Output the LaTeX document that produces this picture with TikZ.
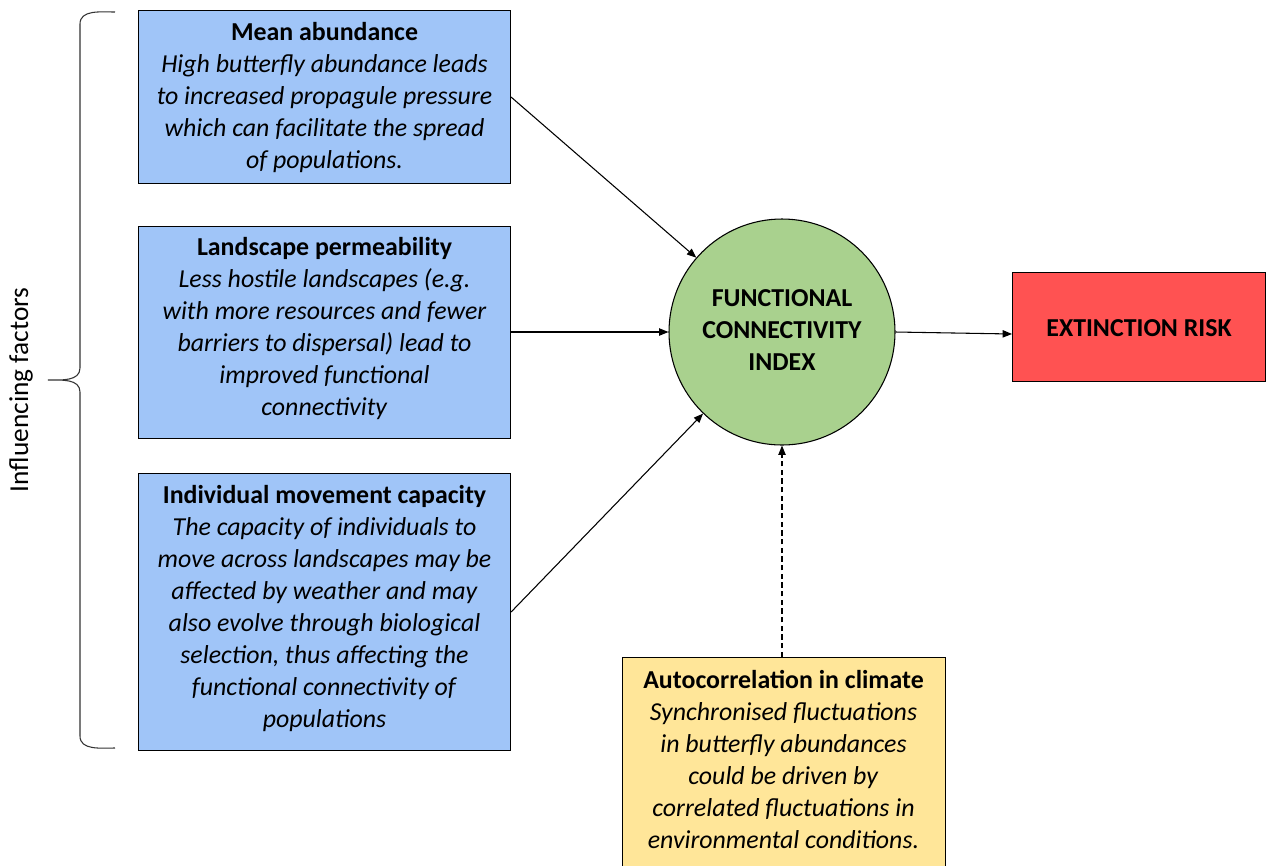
\documentclass[tikz,border=0pt]{standalone}
\usepackage{fontspec}
\setmainfont{Carlito}
\usetikzlibrary{arrows.meta}
\definecolor{boxblue}{HTML}{A0C5F8}
\definecolor{circgreen}{HTML}{A9D18E}
\definecolor{riskred}{HTML}{FF5252}
\definecolor{climyellow}{HTML}{FFE699}
\begin{document}
\begin{tikzpicture}[x=0.75pt,y=-0.75pt,
  txt/.style={font=\fontsize{19.4pt}{24pt}\selectfont, align=center},
  boldtxt/.style={font=\fontsize{19.4pt}{24pt}\selectfont\bfseries, align=center},
  factorbox/.style={draw=black, line width=0.8pt, fill=boxblue, anchor=north west, inner sep=0pt, minimum width=279pt},
  arr/.style={line width=0.8pt, -{Triangle[length=7pt,width=5.5pt]}},
]
\useasboundingbox (0,0) rectangle (1266,865);

% factor boxes
\node[factorbox, minimum height=129.75pt] (b1) at (138,10) {};
\node[txt] (t1) at (b1.center) {\textbf{Mean abundance}\\ \textit{High butterfly abundance leads}\\ \textit{to increased propagule pressure}\\ \textit{which can facilitate the spread}\\ \textit{of populations.}};

\node[factorbox, minimum height=159pt] (b2) at (138,226) {};
\node[txt] (t2) at ([yshift=3pt]b2.center) {\textbf{Landscape permeability}\\ \textit{Less hostile landscapes (e.g.}\\ \textit{with more resources and fewer}\\ \textit{barriers to dispersal) lead to}\\ \textit{improved functional}\\ \textit{connectivity}};

\node[factorbox, minimum height=207.75pt] (b3) at (138,473) {};
\node[txt] (t3) at ([yshift=3pt]b3.center) {\textbf{Individual movement capacity}\\ \textit{The capacity of individuals to}\\ \textit{move across landscapes may be}\\ \textit{affected by weather and may}\\ \textit{also evolve through biological}\\ \textit{selection, thus affecting the}\\ \textit{functional connectivity of}\\ \textit{populations}};

% central circle
\node[circle, draw=black, line width=0.8pt, fill=circgreen, minimum size=169.5pt, inner sep=0pt] (c) at (782,332) {};
\node[boldtxt] (ct) at (782,330) {FUNCTIONAL\\ CONNECTIVITY\\ INDEX};

% extinction risk
\node[draw=black, line width=0.8pt, fill=riskred, anchor=north west, inner sep=0pt, minimum width=189.75pt, minimum height=81.75pt] (ext) at (1012,272) {};
\node[boldtxt] (et) at ([yshift=-1pt]ext.center) {EXTINCTION RISK};

% climate box
\node[draw=black, line width=0.8pt, fill=climyellow, anchor=north west, inner sep=0pt, minimum width=242.25pt, minimum height=159.75pt] (yel) at (622,657) {};
\node[txt] (yt) at (783.5,759) {\textbf{Autocorrelation in climate}\\ \textit{Synchronised fluctuations}\\ \textit{in butterfly abundances}\\ \textit{could be driven by}\\ \textit{correlated fluctuations in}\\ \textit{environmental conditions.}};

% connectors
\draw[arr] (b1.east) -- (c);
\draw[arr] (b2.east |- c.west) -- (c.west);
\draw[arr] (b3.east) -- (c);
\draw[arr] (c.east) -- ([yshift=-1.5pt]ext.west |- c.east);
\draw[arr, dash pattern=on 4pt off 2.5pt] (c.south |- yel.north) -- (c.south);

% brace
\draw[line width=0.8pt, black!80] (115,12) to[out=180,in=90] (80,24) -- (80,368) to[out=-90,in=0] (48,380)
  to[out=0,in=90] (80,392) -- (80,736) to[out=-90,in=180] (115,748);
\node[font=\fontsize{20.5pt}{24pt}\selectfont, rotate=90] (inf) at (21,390) {Influencing factors};
\end{tikzpicture}
\end{document}
